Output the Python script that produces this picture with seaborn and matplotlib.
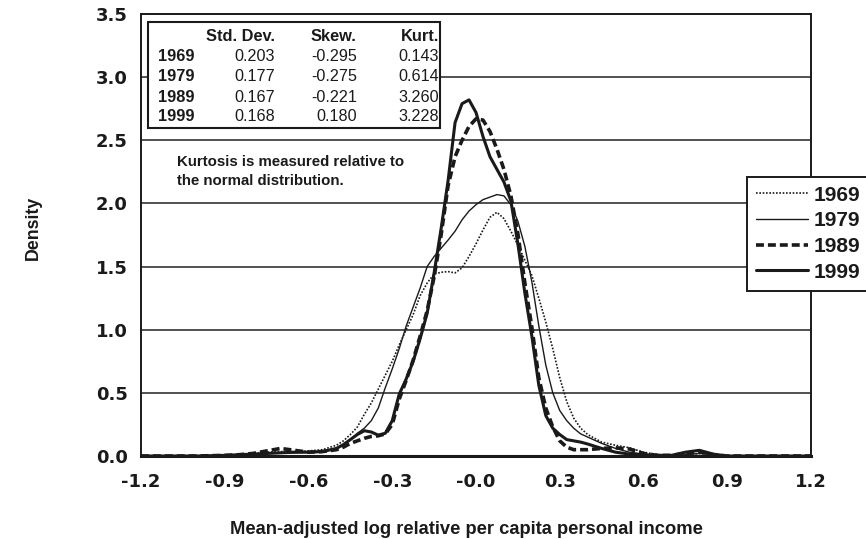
import numpy as np
import pandas as pd
import matplotlib
matplotlib.use("Agg")
import matplotlib.pyplot as plt
import seaborn as sns
from matplotlib.patches import Rectangle

# Values
income = [-1.2, -1.0, -0.9, -0.85, -0.8, -0.75, -0.7, -0.65, -0.6, -0.55,
          -0.5, -0.475, -0.45, -0.425, -0.4, -0.375, -0.35, -0.325, -0.3, -0.275,
          -0.25, -0.225, -0.2, -0.175, -0.15, -0.125, -0.1, -0.075, -0.05, -0.025,
          0.0, 0.025, 0.05, 0.075, 0.1, 0.125, 0.15, 0.175, 0.2, 0.225,
          0.25, 0.275, 0.3, 0.325, 0.35, 0.375, 0.4, 0.45, 0.5, 0.55,
          0.6, 0.65, 0.7, 0.75, 0.8, 0.85, 0.9, 1.0, 1.2]

dens_1969 = [0.0, 0.0, 0.005, 0.01, 0.02, 0.03, 0.035, 0.035, 0.04, 0.05,
             0.085, 0.12, 0.17, 0.23, 0.33, 0.42, 0.53, 0.64, 0.75, 0.88,
             1.0, 1.12, 1.27, 1.37, 1.44, 1.455, 1.46, 1.45, 1.49, 1.58,
             1.68, 1.79, 1.89, 1.93, 1.88, 1.78, 1.67, 1.55, 1.43, 1.25,
             1.06, 0.85, 0.62, 0.43, 0.30, 0.22, 0.17, 0.11, 0.085, 0.065,
             0.03, 0.012, 0.005, 0.01, 0.02, 0.01, 0.0, 0.0, 0.0]

dens_1979 = [0.0, 0.0, 0.005, 0.01, 0.015, 0.02, 0.025, 0.025, 0.03, 0.04,
             0.06, 0.09, 0.13, 0.18, 0.22, 0.28, 0.38, 0.54, 0.69, 0.85,
             1.03, 1.18, 1.33, 1.50, 1.58, 1.645, 1.71, 1.78, 1.87, 1.94,
             1.99, 2.03, 2.05, 2.07, 2.06, 1.99, 1.86, 1.66, 1.38, 1.03,
             0.72, 0.50, 0.36, 0.28, 0.22, 0.175, 0.15, 0.10, 0.06, 0.03,
             0.015, 0.005, 0.005, 0.01, 0.02, 0.01, 0.0, 0.0, 0.0]

dens_1989 = [0.0, 0.0, 0.005, 0.01, 0.02, 0.04, 0.06, 0.045, 0.03, 0.035,
             0.05, 0.07, 0.10, 0.12, 0.14, 0.155, 0.16, 0.175, 0.25, 0.45,
             0.60, 0.76, 0.95, 1.15, 1.42, 1.75, 2.14, 2.37, 2.50, 2.61,
             2.67, 2.66, 2.57, 2.43, 2.27, 2.06, 1.76, 1.37, 1.02, 0.62,
             0.38, 0.23, 0.12, 0.07, 0.05, 0.05, 0.05, 0.06, 0.065, 0.055,
             0.02, 0.005, 0.005, 0.02, 0.035, 0.01, 0.0, 0.0, 0.0]

dens_1999 = [0.0, 0.0, 0.005, 0.01, 0.015, 0.02, 0.025, 0.03, 0.03, 0.035,
             0.06, 0.09, 0.13, 0.17, 0.20, 0.19, 0.165, 0.18, 0.28, 0.49,
             0.61, 0.75, 0.93, 1.13, 1.45, 1.80, 2.18, 2.64, 2.79, 2.82,
             2.72, 2.53, 2.37, 2.27, 2.17, 2.02, 1.68, 1.29, 0.95, 0.56,
             0.32, 0.22, 0.17, 0.13, 0.12, 0.11, 0.095, 0.06, 0.03, 0.015,
             0.01, 0.005, 0.005, 0.03, 0.045, 0.015, 0.0, 0.0, 0.0]

years = ["1969", "1979", "1989", "1999"]

table_cols = ["Std. Dev.", "Skew.", "Kurt."]
std_dev = ["0.203", "0.177", "0.167", "0.168"]
skew = ["-0.295", "-0.275", "-0.221", "0.180"]
kurt = ["0.143", "0.614", "3.260", "3.228"]

df = pd.concat([
    pd.DataFrame({"x": income, "density": d, "year": y})
    for y, d in zip(years, [dens_1969, dens_1979, dens_1989, dens_1999])
])

sns.set_theme(style="white")
plt.rcParams["font.family"] = ["Liberation Sans", "DejaVu Sans"]

ink = "#1a1a1a"
fig = plt.figure(figsize=(8.66, 5.39), dpi=100)
ax = fig.add_axes([141 / 866, 1 - 456 / 539, 670 / 866, 442 / 539])

sns.lineplot(data=df, x="x", y="density", hue="year", style="year", size="year",
             palette={y: ink for y in years},
             dashes={"1969": (1, 1), "1979": "", "1989": (2.2, 1.1), "1999": ""},
             sizes={"1969": 1.2, "1979": 1.0, "1989": 2.6, "1999": 2.2},
             legend=False, ax=ax, zorder=3)

ax.set_xlim(-1.2, 1.2)
ax.set_ylim(0, 3.5)
ax.set_xticks(np.arange(-1.2, 1.21, 0.3))
ax.set_xticklabels(["-1.2", "-0.9", "-0.6", "-0.3", "-0.0", "0.3", "0.6", "0.9", "1.2"])
ax.set_yticks(np.arange(0, 3.51, 0.5))
ax.set_yticklabels([f"{v:.1f}" for v in np.arange(0, 3.51, 0.5)])
ax.yaxis.grid(True, color="#333333", linewidth=1.2)
ax.xaxis.grid(False)
ax.tick_params(axis="x", direction="in", length=8, width=1.2, colors=ink, pad=12)
ax.tick_params(axis="y", direction="out", length=6, width=1.2, colors=ink, pad=3.5)
for lbl in ax.get_xticklabels() + ax.get_yticklabels():
    lbl.set_fontweight("bold")
    lbl.set_fontsize(13)
    lbl.set_family(["DejaVu Sans"])
for side, sp in ax.spines.items():
    sp.set_color(ink)
    sp.set_linewidth(1.4)
ax.spines["bottom"].set_linewidth(2.2)

ax.set_xlabel("Mean-adjusted log relative per capita personal income",
              fontsize=13.2, fontweight="bold", color=ink)
ax.set_ylabel("Density", fontsize=12.8, fontweight="bold", color=ink)
ax.xaxis.set_label_coords(0.485, -0.147)
ax.yaxis.set_label_coords(-0.148, 0.515)

# statistics table inset
ax.add_patch(Rectangle((0.0104, 0.742), 0.4352, 0.240, transform=ax.transAxes,
                       facecolor="white", edgecolor=ink, linewidth=1.5, zorder=5))
col_x = [0.1997, 0.3219, 0.4445]
row_y = [0.903, 0.858, 0.812, 0.767]
for cx, name in zip(col_x, table_cols):
    ax.text(cx, 0.950, name, transform=ax.transAxes, ha="right", va="center",
            fontsize=11.8, fontweight="bold", color=ink, zorder=6)
for ry, yr, s, k, u in zip(row_y, years, std_dev, skew, kurt):
    ax.text(0.0253, ry, yr, transform=ax.transAxes, ha="left", va="center",
            fontsize=11.8, fontweight="bold", color=ink, zorder=6)
    for cx, val in zip(col_x, [s, k, u]):
        ax.text(cx, ry, val, transform=ax.transAxes, ha="right", va="center",
                fontsize=11.6, color=ink, zorder=6)

ax.text(0.0537, 0.644, "Kurtosis is measured relative to\nthe normal distribution.",
        transform=ax.transAxes, ha="left", va="center", fontsize=10.8,
        fontweight="bold", color=ink, linespacing=1.4, zorder=6)

leg = ax.legend(ax.lines[:4], years, loc="upper left",
                bbox_to_anchor=(747 / 866, 1 - 177 / 539), bbox_transform=fig.transFigure,
                borderaxespad=0, frameon=True, fancybox=False, handlelength=2.5,
                handletextpad=0.3, labelspacing=0.32, borderpad=0.42,
                prop={"weight": "bold", "size": 15})
leg.get_frame().set_edgecolor(ink)
leg.get_frame().set_linewidth(1.4)
leg.get_frame().set_alpha(1)
for t in leg.get_texts():
    t.set_color(ink)

fig.savefig("out.png", dpi=100)
